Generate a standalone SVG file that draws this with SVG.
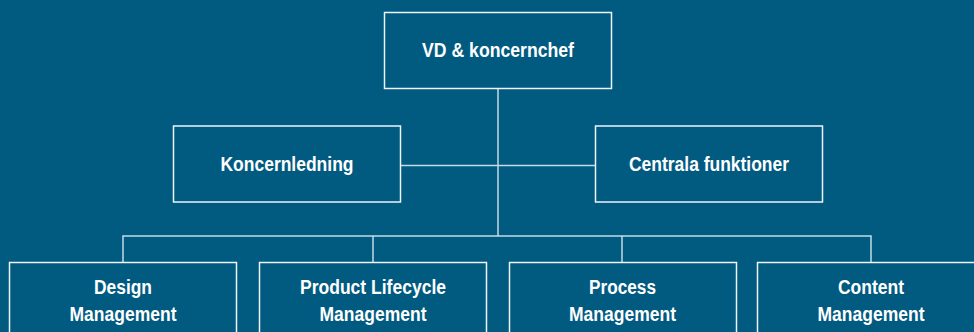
<svg xmlns="http://www.w3.org/2000/svg" width="974" height="332" viewBox="0 0 974 332">
  <style>
    .box { fill: none; stroke: #eef4f7; stroke-width: 1.5; }
    .link { fill: none; stroke: #c4dbe6; stroke-width: 1.5; }
    .label { fill: #ffffff; font-family: "Liberation Sans", Arial, sans-serif; font-weight: bold; font-size: 20px; text-anchor: middle; }
  </style>
  <rect width="974" height="332" fill="#015a80"/>

  <!-- connectors -->
  <g id="connectors">
    <path class="link" d="M498 88 V236"/>
    <path class="link" d="M400.5 165.5 H595.5"/>
    <path class="link" d="M123 262 V236 H871 V262"/>
    <path class="link" d="M373 236 V262"/>
    <path class="link" d="M622 236 V262"/>
  </g>

  <g id="vd">
    <rect class="box" x="384.5" y="12.5" width="227" height="76"/>
    <text class="label" x="498" y="57" textLength="152" lengthAdjust="spacingAndGlyphs">VD &amp; koncernchef</text>
  </g>

  <g id="koncernledning">
    <rect class="box" x="173.5" y="126" width="227" height="76"/>
    <text class="label" x="287" y="170.5" textLength="133" lengthAdjust="spacingAndGlyphs">Koncernledning</text>
  </g>

  <g id="centrala-funktioner">
    <rect class="box" x="595.5" y="126" width="227" height="76"/>
    <text class="label" x="709" y="170.5" textLength="160" lengthAdjust="spacingAndGlyphs">Centrala funktioner</text>
  </g>

  <g id="design-management">
    <rect class="box" x="9.5" y="262.5" width="227" height="80"/>
    <text class="label" x="123" y="293.5" textLength="58" lengthAdjust="spacingAndGlyphs">Design</text>
    <text class="label" x="123" y="320.5" textLength="107" lengthAdjust="spacingAndGlyphs">Management</text>
  </g>

  <g id="plm">
    <rect class="box" x="259.5" y="262.5" width="227" height="80"/>
    <text class="label" x="373" y="293.5" textLength="146" lengthAdjust="spacingAndGlyphs">Product Lifecycle</text>
    <text class="label" x="373" y="320.5" textLength="107" lengthAdjust="spacingAndGlyphs">Management</text>
  </g>

  <g id="process-management">
    <rect class="box" x="509.5" y="262.5" width="227" height="80"/>
    <text class="label" x="622.5" y="293.5" textLength="67" lengthAdjust="spacingAndGlyphs">Process</text>
    <text class="label" x="622.5" y="320.5" textLength="107" lengthAdjust="spacingAndGlyphs">Management</text>
  </g>

  <g id="content-management">
    <rect class="box" x="757.5" y="262.5" width="227" height="80"/>
    <text class="label" x="871" y="293.5" textLength="66" lengthAdjust="spacingAndGlyphs">Content</text>
    <text class="label" x="871" y="320.5" textLength="107" lengthAdjust="spacingAndGlyphs">Management</text>
  </g>
</svg>
